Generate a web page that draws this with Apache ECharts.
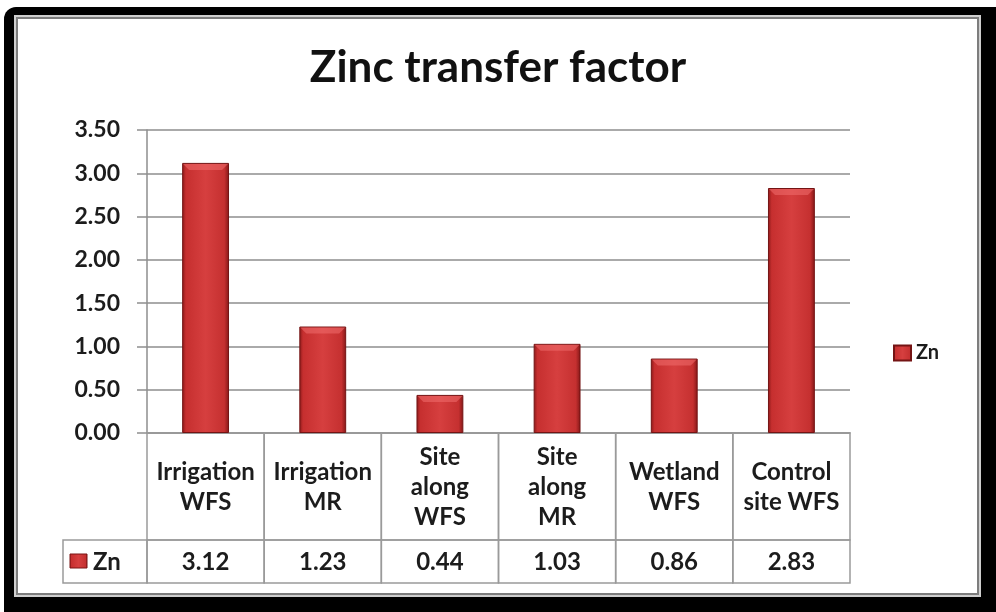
<!DOCTYPE html>
<html>
<head>
<meta charset="utf-8">
<title>Zinc transfer factor</title>
<script src="https://cdn.jsdelivr.net/npm/echarts@6/dist/echarts.min.js"></script>
<style>
  html, body { margin: 0; padding: 0; background: #ffffff; }
  #chart { width: 996px; height: 612px; }
</style>
</head>
<body>
<div id="chart"></div>
<script>
// Sites (as written in the data table) and the Zn transfer factor at each one
const categories = ['Irrigation\nWFS', 'Irrigation\nMR', 'Site\nalong\nWFS', 'Site\nalong\nMR', 'Wetland\nWFS', 'Control\nsite WFS'];
const znValues = [3.12, 1.23, 0.44, 1.03, 0.86, 2.83];
const seriesName = 'Zn';
const yTicks = { min: 0, max: 3.5, interval: 0.5 };

const FONT = 'Lato, "Open Sans", sans-serif';
const GRID_GRAY = '#8e8e8e';
const TABLE_GRAY = '#9a9a9a';
const TEXT = '#1c1c1c';

const barGradient = new echarts.graphic.LinearGradient(0, 0, 1, 0, [
  { offset: 0, color: '#8a1919' },
  { offset: 0.08, color: '#c62f2f' },
  { offset: 0.5, color: '#d63f3f' },
  { offset: 0.9, color: '#c53030' },
  { offset: 1, color: '#821717' }
]);

const chart = echarts.init(document.getElementById('chart'), null, { renderer: 'canvas' });

// Data table drawn under the category axis: one column per site
function renderTable(params, api) {
  const idx = api.value(0);
  const base = api.coord([idx, 0]);
  const w = api.size([1, 0])[0];
  const x0 = base[0] - w / 2;
  const y0 = base[1];
  const rowH1 = 107, rowH2 = 43;
  const line = { stroke: TABLE_GRAY, lineWidth: 1.5, fill: null };
  const children = [
    { type: 'rect', shape: { x: x0, y: y0, width: w, height: rowH1 }, style: line },
    { type: 'rect', shape: { x: x0, y: y0 + rowH1, width: w, height: rowH2 }, style: line },
    { type: 'text', style: {
        text: categories[idx], x: base[0], y: y0 + rowH1 / 2 + 1,
        align: 'center', verticalAlign: 'middle',
        fontFamily: FONT, fontWeight: 'bold', fontSize: 24, lineHeight: 30, fill: TEXT } },
    { type: 'text', style: {
        text: znValues[idx].toFixed(2), x: base[0], y: y0 + rowH1 + rowH2 / 2 + 1,
        align: 'center', verticalAlign: 'middle',
        fontFamily: FONT, fontWeight: 'bold', fontSize: 24, fill: TEXT } }
  ];
  if (idx === 0) {
    // Row header holding the series key
    const hx = x0 - 84;
    children.push(
      { type: 'rect', shape: { x: hx, y: y0 + rowH1, width: 84, height: rowH2 }, style: line },
      { type: 'rect', shape: { x: hx + 7, y: y0 + rowH1 + 14, width: 17, height: 14 },
        style: { fill: barGradient, stroke: '#7a1515', lineWidth: 1 } },
      { type: 'text', style: {
          text: seriesName, x: hx + 30, y: y0 + rowH1 + rowH2 / 2 + 1,
          align: 'left', verticalAlign: 'middle',
          fontFamily: FONT, fontWeight: 'bold', fontSize: 24, fill: TEXT } }
    );
  }
  return { type: 'group', children };
}

// Light bevel along the top of each bar
function renderBevel(params, api) {
  const idx = api.value(0);
  const top = api.coord([idx, api.value(1)]);
  const w = api.size([1, 0])[0] * 0.4;
  const x0 = top[0] - w / 2, x1 = top[0] + w / 2;
  const d = 7;
  return {
    type: 'polygon',
    shape: { points: [[x0 + 1, top[1] + 1], [x1 - 1, top[1] + 1], [x1 - d, top[1] + d], [x0 + d, top[1] + d]] },
    style: { fill: 'rgba(240,110,110,0.55)' }
  };
}

const option = {
  backgroundColor: '#ffffff',
  animation: false,
  title: {
    text: 'Zinc transfer factor',
    left: 'center',
    top: 41,
    textStyle: { fontFamily: FONT, fontWeight: 'bold', fontSize: 44, color: '#111111' }
  },
  legend: {
    data: [seriesName],
    left: 888,
    top: 338,
    orient: 'vertical',
    icon: 'rect',
    itemWidth: 17,
    itemHeight: 15,
    itemGap: 4,
    textStyle: { fontFamily: FONT, fontWeight: 'bold', fontSize: 20, color: TEXT, padding: [0, 0, 0, 0] }
  },
  grid: { left: 147, right: 146, top: 130, bottom: 179, containLabel: false },
  xAxis: {
    type: 'category',
    data: categories,
    boundaryGap: true,
    axisLine: { show: true, lineStyle: { color: GRID_GRAY, width: 1.5 } },
    axisTick: { show: false },
    axisLabel: { show: false },
    splitLine: { show: false }
  },
  yAxis: {
    type: 'value',
    min: yTicks.min,
    max: yTicks.max,
    interval: yTicks.interval,
    axisLine: { show: true, lineStyle: { color: GRID_GRAY, width: 1.5 } },
    axisTick: { show: true, length: 10, lineStyle: { color: GRID_GRAY, width: 1.5 } },
    axisLabel: {
      margin: 27,
      formatter: v => v.toFixed(2),
      fontFamily: FONT, fontWeight: 'bold', fontSize: 23, color: TEXT
    },
    splitLine: { show: true, lineStyle: { color: GRID_GRAY, width: 1.5 } }
  },
  series: [
    {
      name: seriesName,
      type: 'bar',
      data: znValues,
      barWidth: '40%',
      itemStyle: { color: barGradient, borderColor: '#741414', borderWidth: 1 },
      z: 3
    },
    {
      name: 'bevel',
      type: 'custom',
      data: znValues.map((v, i) => [i, v]),
      renderItem: renderBevel,
      silent: true,
      z: 4
    },
    {
      name: 'table',
      type: 'custom',
      data: znValues.map((v, i) => [i, 0]),
      renderItem: renderTable,
      clip: false,
      silent: true,
      z: 2
    }
  ],
  graphic: [
    // Framed border around the chart area
    { type: 'rect', z: -10, silent: true,
      shape: { x: 4, y: 7, width: 992, height: 605, r: [12, 0, 0, 0] },
      style: { fill: '#000000' } },
    { type: 'rect', z: -9, silent: true,
      shape: { x: 14, y: 15, width: 967, height: 582 },
      style: { fill: '#cfcfcf' } },
    { type: 'rect', z: -8, silent: true,
      shape: { x: 17, y: 18, width: 961, height: 576 },
      style: { fill: '#ffffff', stroke: '#7d7d7d', lineWidth: 2 } }
  ]
};

chart.setOption(option);
</script>
</body>
</html>
